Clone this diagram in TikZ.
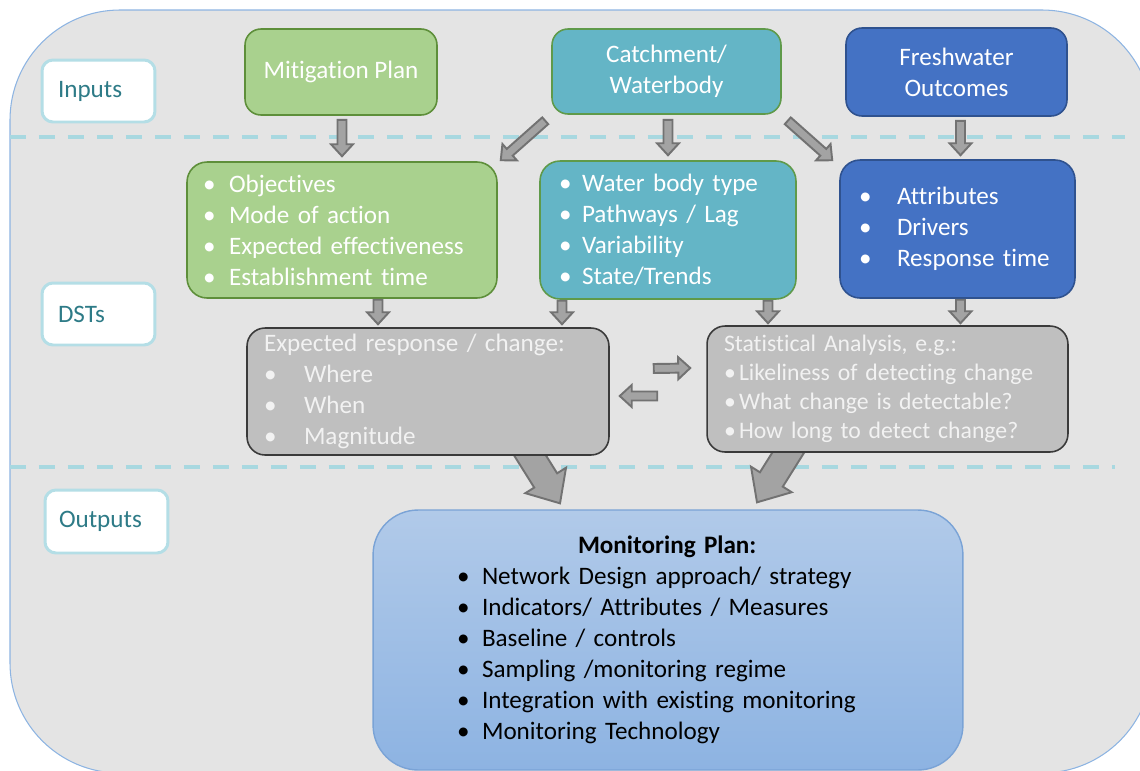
\documentclass[tikz,border=0pt]{standalone}
\usepackage{fontspec}
\setmainfont{Carlito}[Ligatures=NoCommon]
\usetikzlibrary{calc}
\usetikzlibrary{backgrounds}

\definecolor{bggray}{HTML}{E4E4E4}
\definecolor{bgedge}{HTML}{8DB4E2}
\definecolor{dashblue}{HTML}{A8D8E0}
\definecolor{labedge}{HTML}{B4DEE6}
\definecolor{labtext}{HTML}{2E7B87}
\definecolor{mitfill}{HTML}{A9D18E}
\definecolor{mitedge}{HTML}{5E8F3A}
\definecolor{catfill}{HTML}{64B5C6}
\definecolor{catedge}{HTML}{5F9A4A}
\definecolor{frefill}{HTML}{4472C4}
\definecolor{freedge}{HTML}{2F528F}
\definecolor{dstfill}{HTML}{BFBFBF}
\definecolor{dstedge}{HTML}{3A3A3A}
\definecolor{arrfill}{HTML}{A3A3A3}
\definecolor{arredge}{HTML}{727272}
\definecolor{montop}{HTML}{B1CAE9}
\definecolor{monbot}{HTML}{8DB3E2}
\definecolor{monedge}{HTML}{7AA3D6}

% bullet in a box of given width
\newcommand{\itm}[1]{\makebox[#1][l]{\textbullet}}
% block arrow: from, to, half shaft, half head, head length
\newcommand{\blockarr}[5]{%
  \coordinate (neck) at ($(#2)!#5!(#1)$);
  \draw[arrowbox] ($(#1)!#3!90:(#2)$) -- ($(neck)!#3!90:(#2)$) -- ($(neck)!#4!90:(#2)$) -- (#2)
    -- ($(neck)!#4!-90:(#2)$) -- ($(neck)!#3!-90:(#2)$) -- ($(#1)!#3!-90:(#2)$) -- cycle;}
\newcommand{\smallarr}[2]{\blockarr{#1}{#2}{0.09cm}{0.22cm}{0.24cm}}
\newcommand{\bigarr}[2]{\blockarr{#1}{#2}{0.27cm}{0.48cm}{0.54cm}}

\begin{document}
\begin{tikzpicture}[x=0.02cm,y=-0.02cm,
  every node/.style={font=\fontsize{14.3}{17.6}\selectfont},
  labelbox/.style={draw=labedge, line width=1.7pt, fill=white, rounded corners=0.22cm,
    text=labtext, align=left, inner xsep=0.32cm, minimum height=1.24cm},
  box/.style={rounded corners=0.32cm, line width=0.9pt, text=white, align=center, inner xsep=0pt},
  mitbox/.style={box, fill=mitfill, draw=mitedge},
  catbox/.style={box, fill=catfill, draw=catedge},
  frebox/.style={box, fill=frefill, draw=freedge},
  dstbox/.style={box, fill=dstfill, draw=dstedge, text=white!95!black, rounded corners=0.36cm},
  listbox/.style={align=left, inner xsep=0.34cm},
  arrowbox/.style={fill=arrfill, draw=arredge, line width=1.1pt, line join=miter}]
	\useasboundingbox (0,0) rectangle (1140,771);
	\clip (0,0) rectangle (1140,771);

	% row labels
	\node[labelbox, text width=1.62cm] (inputs) at (98.5,91) {Inputs};
	\node[labelbox, text width=1.62cm] (dsts) at (98.5,314) {DSTs};
	\node[labelbox, text width=1.9cm, inner xsep=0.28cm, minimum height=1.26cm] (outputs) at (106.5,521.5) {Outputs};

	% inputs
	\node[mitbox, minimum width=3.84cm, minimum height=1.72cm] (mit) at (341,72) {Mitigation Plan};
	\node[catbox, minimum width=4.58cm, minimum height=1.7cm] (catch) at (666.5,71.5) {Catchment/\\Waterbody};
	\node[frebox, minimum width=4.42cm, minimum height=1.76cm] (fresh) at (956.5,72) {Freshwater\\Outcomes};

	% DSTs
	\node[mitbox, listbox, rounded corners=0.4cm, inner xsep=0.32cm, text width=5.56cm, minimum height=2.72cm] (obj) at (342,230)
		{\itm{0.52cm}Objectives\\ \itm{0.52cm}Mode of action\\ \itm{0.52cm}Expected effectiveness\\ \itm{0.52cm}Establishment time};
	\node[catbox, listbox, rounded corners=0.4cm, inner xsep=0.38cm, text width=4.36cm, minimum height=2.76cm] (wbt) at (668,230)
		{\itm{0.46cm}Water body type\\ \itm{0.46cm}Pathways / Lag\\ \itm{0.46cm}Variability\\ \itm{0.46cm}State/Trends};
	\node[frebox, listbox, rounded corners=0.4cm, inner xsep=0.38cm, text width=3.94cm, minimum height=2.76cm] (attr) at (957.5,229)
		{\itm{0.76cm}Attributes\\ \itm{0.76cm}Drivers\\ \itm{0.76cm}Response time};
	\node[dstbox, listbox, text width=6.56cm, minimum height=2.54cm] (resp) at (428,391.5)
		{Expected response / change:\\ \itm{0.8cm}Where\\ \itm{0.8cm}When\\ \itm{0.8cm}Magnitude};
	\node[dstbox, listbox, text width=6.54cm, minimum height=2.52cm, font=\fontsize{13.5}{16.5}\selectfont] (stat) at (887.5,389)
		{Statistical Analysis, e.g.:\\ \itm{0.3cm}Likeliness of detecting change\\ \itm{0.3cm}What change is detectable?\\ \itm{0.3cm}How long to detect change?};

	% outputs
	\node[draw=monedge, line width=0.8pt, top color=montop, bottom color=monbot, rounded corners=0.9cm,
		align=left, inner xsep=1.68cm, text width=8.44cm, minimum height=5.2cm] (mon) at (668,640)
		{\hspace*{2.42cm}\textbf{Monitoring Plan:}\\ \itm{0.5cm}Network Design approach/ strategy\\
		 \itm{0.5cm}Indicators/ Attributes / Measures\\ \itm{0.5cm}Baseline / controls\\
		 \itm{0.5cm}Sampling /monitoring regime\\ \itm{0.5cm}Integration with existing monitoring\\
		 \itm{0.5cm}Monitoring Technology};

	% arrow ends
	\coordinate (a1) at ($(mit.south -| obj.north)+(0,4)$);
	\coordinate (b1) at ($(obj.north)+(0,-5)$);
	\coordinate (a2) at ($(catch.south -| wbt.north)+(0,5)$);
	\coordinate (b2) at ($(wbt.north)+(0,-5)$);
	\coordinate (a3) at ($(fresh.south)+(4,4)$);
	\coordinate (b3) at ($(fresh.south |- attr.north)+(4,-4)$);
	\coordinate (a4) at ($(catch.south west)+(-6,6)$);
	\coordinate (b4) at ($(obj.north east)+(3,-1)$);
	\coordinate (a5) at ($(catch.south east)+(6,6)$);
	\coordinate (b5) at ($(attr.north west)+(-7,1)$);
	\coordinate (a6) at ($(obj.south)+(36,1)$);
	\coordinate (b6) at ($(resp.north)+(-50,-3)$);
	\coordinate (a7) at ($(wbt.south)+(-106,1)$);
	\coordinate (b7) at ($(resp.north)+(134,-3)$);
	\coordinate (a8) at ($(wbt.south)+(100,1)$);
	\coordinate (b8) at ($(stat.north)+(-119.5,-2)$);
	\coordinate (a9) at ($(attr.south)+(3,1)$);
	\coordinate (b9) at ($(stat.north)+(73,-2)$);
	\coordinate (a10) at ($(resp.east)+(44,-23)$);
	\coordinate (b10) at ($(stat.west)+(-16,-21)$);
	\coordinate (a11) at ($(stat.west)+(-49,7)$);
	\coordinate (b11) at ($(resp.east)+(10,4.5)$);
	\coordinate (a12) at ($(resp.south)+(96,-10)$);
	\coordinate (b12) at ($(mon.north)+(-108,-6)$);
	\coordinate (a13) at ($(stat.south)+(-95,-7)$);
	\coordinate (b13) at ($(mon.north)+(89,-7)$);

	\smallarr{a1}{b1}
	\smallarr{a2}{b2}
	\smallarr{a3}{b3}
	\smallarr{a4}{b4}
	\smallarr{a5}{b5}
	\smallarr{a6}{b6}
	\smallarr{a7}{b7}
	\smallarr{a8}{b8}
	\smallarr{a9}{b9}
	\smallarr{a10}{b10}
	\smallarr{a11}{b11}

	\begin{scope}[on background layer]
		\clip (0,0) rectangle (1140,771);
		\fill[bggray, draw=bgedge, line width=0.6pt, rounded corners=2.2cm] (10,10) rectangle (1152,773);
		\draw[dashblue, line width=2.3pt, dash pattern=on 0.32cm off 0.26cm] (10,137) -- (1125,137);
		\draw[dashblue, line width=2.3pt, dash pattern=on 0.32cm off 0.26cm] (10,467) -- (1115,467);
		\bigarr{a12}{b12}
		\bigarr{a13}{b13}
	\end{scope}
\end{tikzpicture}
\end{document}
